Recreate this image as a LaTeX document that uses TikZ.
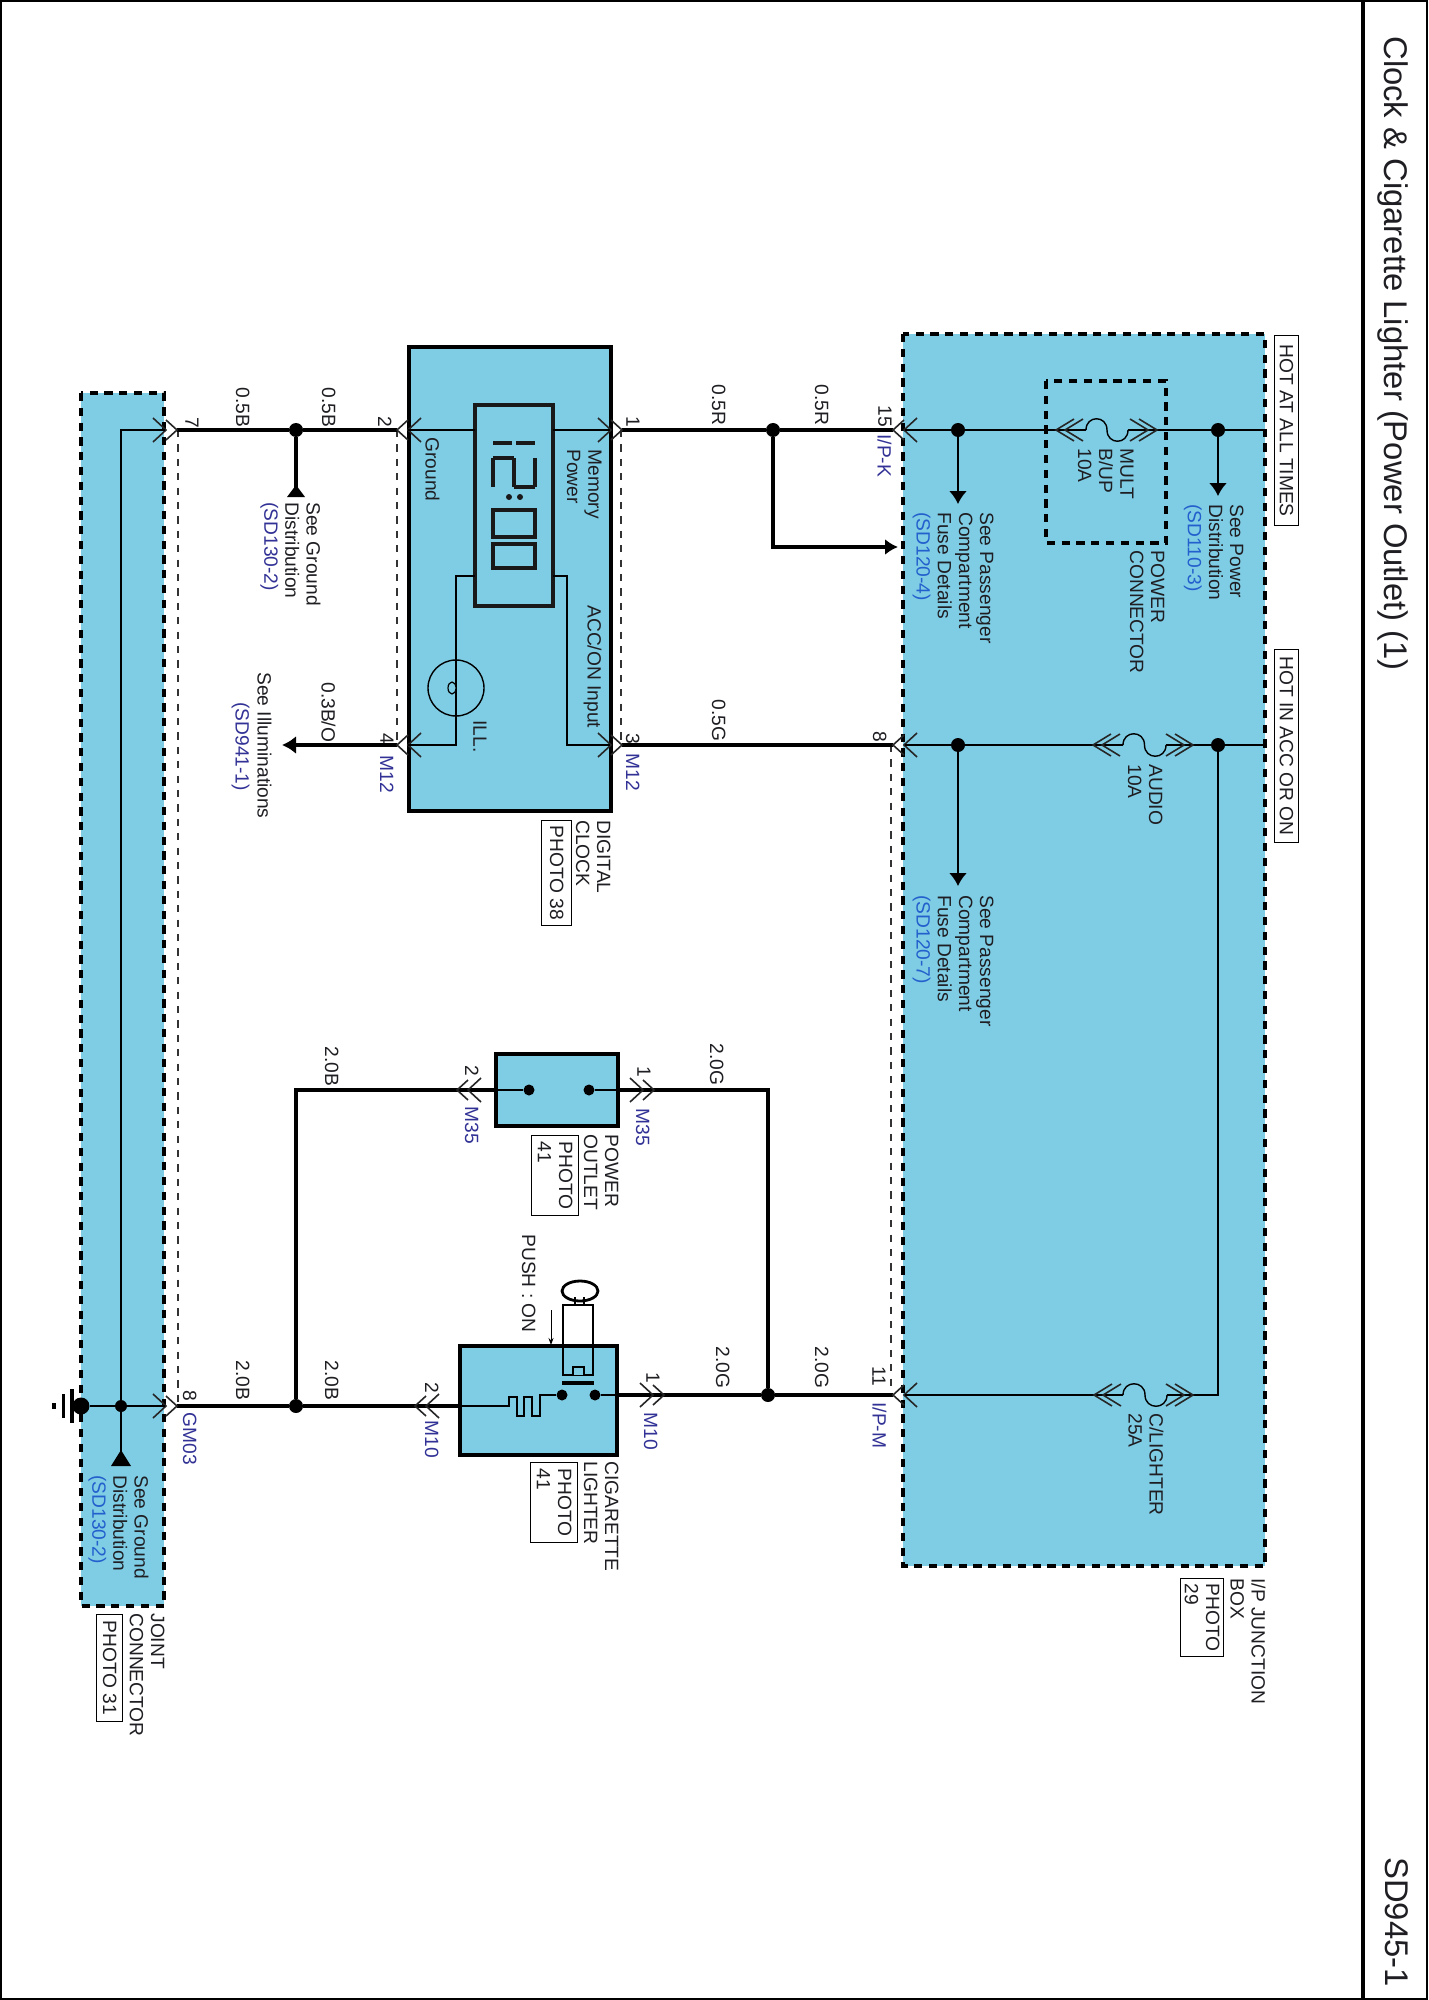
\documentclass[tikz,border=0pt]{standalone}
\usepackage{fontspec}
\setmainfont{Liberation Sans}
\usetikzlibrary{arrows.meta,calc}
\definecolor{boxblue}{RGB}{127,205,228}
\definecolor{inkc}{RGB}{30,30,35}
\definecolor{refin}{RGB}{35,95,205}
\definecolor{refout}{RGB}{50,50,150}
\tikzset{
  x=0.5pt,y=-0.5pt,
  panel/.style={fill=boxblue,draw=black,line width=1.7pt},
  dashpanel/.style={fill=boxblue,draw=black,line width=1.7pt,dash pattern=on 4.1pt off 3.3pt},
  dashinner/.style={draw=black,line width=1.7pt,dash pattern=on 4.1pt off 3.3pt},
  thinwire/.style={draw=black,line width=0.7pt},
  thickwire/.style={draw=black,line width=1.8pt},
  shield/.style={draw=black!80,line width=0.55pt,dash pattern=on 3.6pt off 3.6pt},
  chev/.style={draw=black!85,line width=0.8pt},
  vtxt/.style={rotate=-90,anchor=north west,inner sep=0pt,align=left,text=inkc,
     font=\fontsize{9.6}{10.6}\selectfont},
  vref/.style={vtxt,text=refout},
  tagbox/.style={rotate=-90,anchor=north west,draw=black,line width=0.55pt,inner sep=0pt,align=left,text=inkc,
     font=\fontsize{9.6}{10.6}\selectfont},
  juncdot/.style={circle,fill=black,inner sep=0pt,minimum size=7pt},
}
\newcommand{\chevr}[3]{% apex x, y, sign direction of arms
  \draw[chev] (#1+#3*11,#2-10) -- (#1,#2) -- (#1+#3*11,#2+10);
  \draw[chev] (#1+#3*24,#2-12) -- (#1+#3*11,#2) -- (#1+#3*24,#2+12);
}
\newcommand{\fusechev}[3]{%
  \draw[chev] (#1+#3*18,#2-11) -- (#1,#2) -- (#1+#3*18,#2+11);
  \draw[chev] (#1+#3*27,#2-11) -- (#1+#3*9,#2) -- (#1+#3*27,#2+11);
}
\newcommand{\fusecurve}[3]{% x1,x2,y
  \draw[thinwire] (#1,#3) .. controls (#1,#3-15) and ({(#1+#2)/2},#3-15) .. ({(#1+#2)/2},#3)
     .. controls ({(#1+#2)/2},#3+15) and (#2,#3+15) .. (#2,#3);
}
\newcommand{\seg}[4]{\draw[line width=1.9pt,draw=black!90] (#1,#2) -- (#3,#4);}
\begin{document}
\begin{tikzpicture}
\useasboundingbox (0,0) rectangle (1428,2000);
\fill[white] (0,0) rectangle (1428,2000);
\draw[black,line width=1pt] (1,1) rectangle (1427,1999);
\draw[black,line width=2.2pt] (1363,0) -- (1363,2000);

\node[rotate=-90,anchor=north west,inner sep=0pt,text=inkc,font=\fontsize{16.4}{18}\selectfont] (title) at (1409,36) {Clock \& Cigarette Lighter (Power Outlet) (1)};
\node[rotate=-90,anchor=north west,inner sep=0pt,text=inkc,font=\fontsize{16.4}{18}\selectfont] (pageno) at (1409,1857) {SD945-1};

% panels
\draw[dashpanel] (903,334) rectangle (1265,1566);
\draw[panel] (409,347) rectangle (611,811);
\draw[panel] (496,1054) rectangle (618,1126);
\draw[panel] (460,1346) rectangle (617,1455);
\draw[dashpanel] (81,393) rectangle (164,1606);
\draw[dashinner] (1046,381) rectangle (1166,543);

% shield dashes
\draw[shield] (621,430) -- (621,745);
\draw[shield] (397,430) -- (397,745);
\draw[shield] (891,745) -- (891,1395);
\draw[shield] (178,430) -- (178,1406);

% named points
\coordinate (p15) at (893,430);
\coordinate (p8) at (893,745);
\coordinate (p11) at (893,1395);
\coordinate (c1) at (622,430);
\coordinate (c3) at (622,745);
\coordinate (c2) at (397,430);
\coordinate (c4) at (397,745);
\coordinate (s7) at (177,430);
\coordinate (s8) at (177,1406);
\coordinate (o1) at (654,1090);
\coordinate (o2) at (457,1090);
\coordinate (l1) at (664,1395);
\coordinate (l2) at (415,1406);
\node[juncdot] (jr) at (773,430) {};
\node[juncdot] (jb) at (296,430) {};
\node[juncdot] (jg) at (768,1395) {};
\node[juncdot] (jn) at (296,1406) {};
\coordinate (ibox) at (898,547);
\coordinate (illend) at (282,745);

% thick wires
\draw[thickwire] (c1) -- (jr) -- (p15);
\draw[thickwire] (c3) -- (p8);
\draw[thickwire] (l1) -- (jg) -- (p11);
\draw[thickwire] (o1) -| (jg);
\draw[thickwire] (o2) -| (jn);
\draw[thickwire] (s7) -- (jb) -- (c2);
\draw[thickwire] (s8) -- (jn) -- (l2);
\draw[thickwire,-{Latex[length=6.5pt,width=8pt]}] (jr) |- (ibox);
\draw[thickwire,-{Latex[length=7pt,width=9pt]}] (c4) -- (illend);
\draw[thickwire] (618,1090) -- (o1);
\draw[thickwire] (496,1090) -- (o2);
\draw[thickwire] (617,1395) -- (l1);
\draw[thickwire] (460,1406) -- (l2);

% connectors
\chevr{893}{430}{1}\chevr{893}{745}{1}\chevr{893}{1395}{1}
\chevr{622}{430}{-1}\chevr{622}{745}{-1}
\chevr{397}{430}{1}\chevr{397}{745}{1}
\chevr{177}{430}{-1}\chevr{177}{1406}{-1}
\chevr{654}{1090}{-1}\chevr{457}{1090}{1}
\chevr{664}{1395}{-1}\chevr{415}{1406}{1}

% junction box internals
\node[juncdot] (d1a) at (958,430) {};
\node[juncdot] (d1b) at (1218,430) {};
\node[juncdot] (d2a) at (958,745) {};
\node[juncdot] (d2b) at (1218,745) {};
\coordinate (e1) at (1265,430);
\coordinate (e2) at (1265,745);
\coordinate (a1) at (958,504);
\coordinate (a2) at (1218,496);
\coordinate (a3) at (958,886);
\draw[thinwire] (905,430) -- (d1a) -- (1086,430);
\fusecurve{1086}{1128}{430}
\draw[thinwire] (1128,430) -- (1157,430);
\draw[thinwire] (1157,430) -- (d1b) -- (e1);
\fusechev{1056}{430}{1}\fusechev{1157}{430}{-1}
\draw[thinwire] (905,745) -- (d2a) -- (1123,745);
\fusecurve{1123}{1166}{745}
\draw[thinwire] (1166,745) -- (d2b) -- (e2);
\fusechev{1093}{745}{1}\fusechev{1193}{745}{-1}
\draw[thinwire] (905,1395) -- (1123,1395);
\fusecurve{1123}{1167}{1395}
\draw[thinwire] (1167,1395) -- (1218,1395) -- (d2b);
\fusechev{1094}{1395}{1}\fusechev{1193}{1395}{-1}
\draw[thinwire,line width=1pt,-{Latex[length=6.5pt,width=9pt]}] (d1a) -- (a1);
\draw[thinwire,line width=1pt,-{Latex[length=6.5pt,width=9pt]}] (d1b) -- (a2);
\draw[thinwire,line width=1pt,-{Latex[length=6.5pt,width=9pt]}] (d2a) -- (a3);

% clock internals
\draw[line width=1.7pt,draw=black!90] (475,405) rectangle (553,606);
\draw[thinwire] (553,430) -- (610,430);
\draw[thinwire] (475,430) -- (408,430);
\draw[thinwire] (553,576) -| (567,745) -- (610,745);
\draw[thinwire] (475,576) -| (456,745) -- (408,745);
\draw[thinwire] (456,688) circle (28);
\draw[thinwire,line width=0.6pt,fill=boxblue] (452,688) ellipse (4 and 6);
% digits
\seg{493}{443}{512}{443}\seg{516}{443}{535}{443}
\seg{535}{458}{535}{487}\seg{535}{487}{514}{487}\seg{514}{487}{514}{458}\seg{514}{458}{493}{458}\seg{493}{458}{493}{487}
\node[circle,fill=black!90,inner sep=0pt,minimum size=3pt] (col1) at (509,497) {};
\node[circle,fill=black!90,inner sep=0pt,minimum size=3pt] (col2) at (520,497) {};
\draw[line width=1.9pt,draw=black!90] (493,510) rectangle (535,537);
\draw[line width=1.9pt,draw=black!90] (493,544) rectangle (535,568);

% outlet internals
\node[circle,fill=black,inner sep=0pt,minimum size=5.5pt] (od1) at (529,1090) {};
\node[circle,fill=black,inner sep=0pt,minimum size=5.5pt] (od2) at (589,1090) {};
\draw[thinwire] (od1) -- (496,1090);
\draw[thinwire] (od2) -- (618,1090);

% lighter internals
\node[circle,fill=black,inner sep=0pt,minimum size=5.5pt] (ld1) at (562,1395) {};
\node[circle,fill=black,inner sep=0pt,minimum size=5.5pt] (ld2) at (595,1395) {};
\draw[thinwire] (ld2) -- (617,1395);
\draw[thinwire] (ld1) -- (540,1395) -- (540,1416) -- (532,1416) -- (532,1397) -- (524,1397) -- (524,1416) -- (517,1416) -- (517,1397) -- (509,1397) -- (509,1406) -- (460,1406);
\draw[line width=1.4pt] (563,1375) -- (563,1305) -- (593,1305) -- (593,1375) -- cycle;
\draw[line width=2pt] (562,1383) -- (594,1383);
\draw[line width=0.9pt,fill=boxblue] (573,1375) -- (573,1367) -- (584,1367) -- (584,1375);
\draw[line width=0.8pt] (575,1305) -- (575,1297) (584,1305) -- (584,1297);
\draw[line width=1.4pt] (580,1291) ellipse (18 and 10);
\coordinate (ps) at (551,1310);
\coordinate (pe) at (551,1345);
\draw[line width=0.5pt,-{Stealth[length=3.5pt,width=2.5pt]}] (ps) -- (pe);

% joint internals
\node[circle,fill=black,inner sep=0pt,minimum size=8.5pt] (gd) at (81,1406) {};
\node[juncdot,minimum size=6pt] (gj) at (121,1406) {};
\coordinate (gtop) at (121,430);
\draw[thinwire] (gd) -- (165,1406);
\draw[thinwire] (165,430) -- (gtop) -- (gj);
\draw[line width=1.8pt] (72,1389) -- (72,1423);
\draw[line width=1.5pt] (63,1394) -- (63,1418);
\draw[line width=1.6pt] (54,1403) -- (54,1409);
\draw[thinwire] (gj) -- (121,1466);
\fill[black] (121,1450) -- (131,1466) -- (111,1466) -- cycle;
\draw[thickwire] (jb) -- (296,497);
\fill[black] (296,485) -- (305,497) -- (287,497) -- cycle;

% labels: junction
\node[tagbox,minimum width=95pt,minimum height=12pt,align=center] (hot1) at (1299,335) {HOT AT ALL TIMES};
\node[tagbox,minimum width=96.5pt,minimum height=12pt,align=center] (hot2) at (1299,649) {HOT IN ACC OR ON};
\node[vtxt] (t1) at (994,512) {See Passenger\\Compartment\\Fuse Details\\\textcolor{refin}{(SD120-4)}};
\node[vtxt] (t2) at (994,895) {See Passenger\\Compartment\\Fuse Details\\\textcolor{refin}{(SD120-7)}};
\node[vtxt] (t3) at (1244,504) {See Power\\Distribution\\\textcolor{refin}{(SD110-3)}};
\node[vtxt] (t4) at (1134,448) {MULT\\B/UP\\10A};
\node[vtxt] (t5) at (1165,550) {POWER\\CONNECTOR};
\node[vtxt] (t6) at (1163,764) {AUDIO\\10A};
\node[vtxt] (t7) at (1164,1413) {C/LIGHTER\\25A};
\node[vtxt] (t8) at (1266,1578) {I/P JUNCTION\\BOX};
\node[tagbox,inner xsep=2.5pt,inner ysep=2pt] (t9) at (1224,1578) {PHOTO\\29};

\node[vtxt] (n15) at (892,405) {15};
\node[vref] (ipk) at (892,434) {I/P-K};
\node[vtxt] (n8) at (887,731) {8};
\node[vtxt] (n11) at (886,1366) {11};
\node[vref] (ipm) at (887,1402) {I/P-M};
\node[vtxt] (w1) at (829,384) {0.5R};
\node[vtxt] (w2) at (726,384) {0.5R};
\node[vtxt] (w3) at (726,699) {0.5G};
\node[vtxt] (w4) at (829,1346) {2.0G};
\node[vtxt] (w5) at (730,1346) {2.0G};
\node[vtxt] (w6) at (724,1043) {2.0G};
\node[vtxt] (w7) at (339,1046) {2.0B};
\node[vtxt] (w8) at (339,1360) {2.0B};
\node[vtxt] (w9) at (250,1360) {2.0B};
\node[vtxt] (w10) at (250,387) {0.5B};
\node[vtxt] (w11) at (336,387) {0.5B};
\node[vtxt] (w12) at (336,682) {0.3B/O};

% labels: clock
\node[vtxt] (ck1) at (602,449) {Memory\\Power};
\node[vtxt] (ck2) at (440,437) {Ground};
\node[vtxt] (ck3) at (602,605) {ACC/ON Input};
\node[vtxt] (ck4) at (487,720) {ILL.};
\node[vtxt] (ck5) at (611,820) {DIGITAL\\CLOCK};
\node[tagbox,inner xsep=2.5pt,inner ysep=4pt] (ck6) at (572,820) {PHOTO 38};
\node[vtxt] (ck7) at (640,416) {1};
\node[vtxt] (ck8) at (640,733) {3};
\node[vref] (ck9) at (640,753) {M12};
\node[vtxt] (ck10) at (392,416) {2};
\node[vtxt] (ck11) at (394,733) {4};
\node[vref] (ck12) at (394,755) {M12};

% labels: outlet
\node[vtxt] (o3) at (619,1134) {POWER\\OUTLET};
\node[tagbox,inner xsep=3pt,inner ysep=3pt] (o4) at (579,1135) {PHOTO\\41};
\node[vtxt] (o5) at (651,1066) {1};
\node[vref] (o6) at (650,1108) {M35};
\node[vtxt] (o7) at (479,1065) {2};
\node[vref] (o8) at (479,1106) {M35};

% labels: lighter
\node[vtxt] (l3) at (536,1234) {PUSH : ON};
\node[vtxt] (l4) at (619,1461) {CIGARETTE\\LIGHTER};
\node[tagbox,inner xsep=3pt,inner ysep=3pt] (l5) at (578,1462) {PHOTO\\41};
\node[vtxt] (l6) at (660,1372) {1};
\node[vref] (l7) at (658,1412) {M10};
\node[vtxt] (l8) at (439,1382) {2};
\node[vref] (l9) at (439,1420) {M10};

% labels: joint and ground refs
\node[vtxt] (g1) at (321,502) {See Ground\\Distribution\\\textcolor{refout}{(SD130-2)}};
\node[vtxt] (g2) at (149,1475) {See Ground\\Distribution\\\textcolor{refin}{(SD130-2)}};
\node[vtxt] (g3) at (272,672) {See Illuminations};
\node[vref] (g4) at (250,702) {(SD941-1)};
\node[vtxt] (g5) at (165,1613) {JOINT\\CONNECTOR};
\node[tagbox,inner xsep=3pt,inner ysep=3pt] (g6) at (123,1614) {PHOTO 31};
\node[vtxt] (g7) at (199,417) {7};
\node[vtxt] (g8) at (197,1390) {8};
\node[vref] (g9) at (197,1412) {GM03};
\end{tikzpicture}
\end{document}
